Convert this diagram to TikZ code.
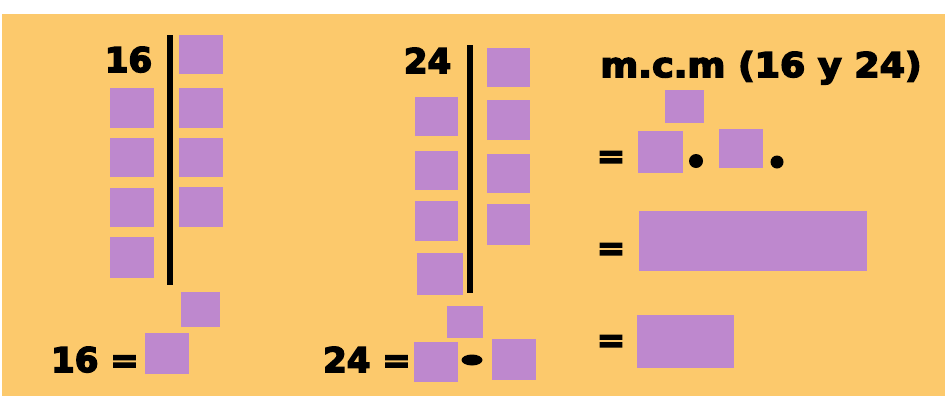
\documentclass[tikz,border=0pt]{standalone}
\usepackage{fontspec}
\usepackage{graphicx}
\newfontfamily\bfont[FakeBold=4.5]{DejaVu Sans Bold}
\definecolor{bgorange}{HTML}{FCC96C}
\definecolor{purp}{HTML}{BE88CE}
\tikzset{
  sq/.style 2 args={fill=purp, draw=none, inner sep=0pt, minimum width=#1pt, minimum height=#2pt},
  lbl/.style={inner sep=0pt, text=black, font=\bfont\fontsize{34}{40}\selectfont},
  bar/.style={line width=5.5pt, black},
  dotmark/.style={fill=black, draw=none}
}
\begin{document}
\begin{tikzpicture}[x=1pt,y=-1pt]
\useasboundingbox (0,0) rectangle (945,405);
\fill[white] (0,0) rectangle (945,405);
\fill[bgorange] (2,14) rectangle (945,396);
% ---------- left panel: 16
\node[lbl, anchor=base] (t16) at (128.5,72) {16};
\coordinate (l1a) at (170,35);
\coordinate (l1b) at (170,285);
\draw[bar] (l1a) -- (l1b);
\node[sq={44}{39}] (a1) at (201,54.5) {};
\node[sq={44}{40}] (a2) at (201,108) {};
\node[sq={44}{39}] (a3) at (201,157.5) {};
\node[sq={44}{40}] (a4) at (201,207) {};
\node[sq={44}{40}] (b1) at (132,108) {};
\node[sq={44}{39}] (b2) at (132,157.5) {};
\node[sq={44}{39}] (b3) at (132,207.5) {};
\node[sq={44}{41}] (b4) at (132,257.5) {};
\node[sq={39}{35}] (a5) at (200.5,309.5) {};
\node[lbl, anchor=base east] (e16) at (139,372) {16 =};
\node[sq={44}{41}] (r16) at (167,353.5) {};
% ---------- middle panel: 24
\node[lbl, anchor=base] (t24) at (427.5,73) {24};
\coordinate (l2a) at (470,45);
\coordinate (l2b) at (470,293);
\draw[bar] (l2a) -- (l2b);
\node[sq={43}{39}] (c1) at (508.5,67.5) {};
\node[sq={43}{40}] (c2) at (508.5,120) {};
\node[sq={43}{39}] (c3) at (508.5,173.5) {};
\node[sq={43}{41}] (c4) at (508.5,224.5) {};
\node[sq={43}{39}] (d1) at (436.5,116.5) {};
\node[sq={43}{39}] (d2) at (436.5,170.5) {};
\node[sq={43}{40}] (d3) at (436.5,221) {};
\node[sq={46}{42}] (d4) at (440,274) {};
\node[sq={36}{32}] (c5) at (465,322) {};
\node[lbl, anchor=base east] (e24) at (411,372) {24 =};
\node[sq={44}{40}] (r24a) at (436,362) {};
\fill[black] (472,360) ellipse [x radius=10.5pt, y radius=5.5pt];
\node[sq={44}{41}] (r24b) at (514,359.5) {};
% ---------- right panel: m.c.m
\node[lbl, anchor=base] (title) at (761,77) {\scalebox{1.07}[1]{m.c.m (16 y 24)}};
\node[sq={39}{33}] (m0) at (684.5,106.5) {};
\node[lbl] (eq1) at (611,159.5) {=};
\node[sq={45}{42}] (m1) at (660.5,152) {};
\fill[black] (696,161) circle [radius=7pt];
\node[sq={44}{39}] (m2) at (741,148.5) {};
\fill[black] (777,162) circle [radius=6.5pt];
\node[lbl] (eq2) at (611,251.5) {=};
\node[sq={228}{60}] (m3) at (753,241) {};
\node[lbl] (eq3) at (611,343.5) {=};
\node[sq={97}{53}] (m4) at (685.5,341.5) {};
\end{tikzpicture}
\end{document}
